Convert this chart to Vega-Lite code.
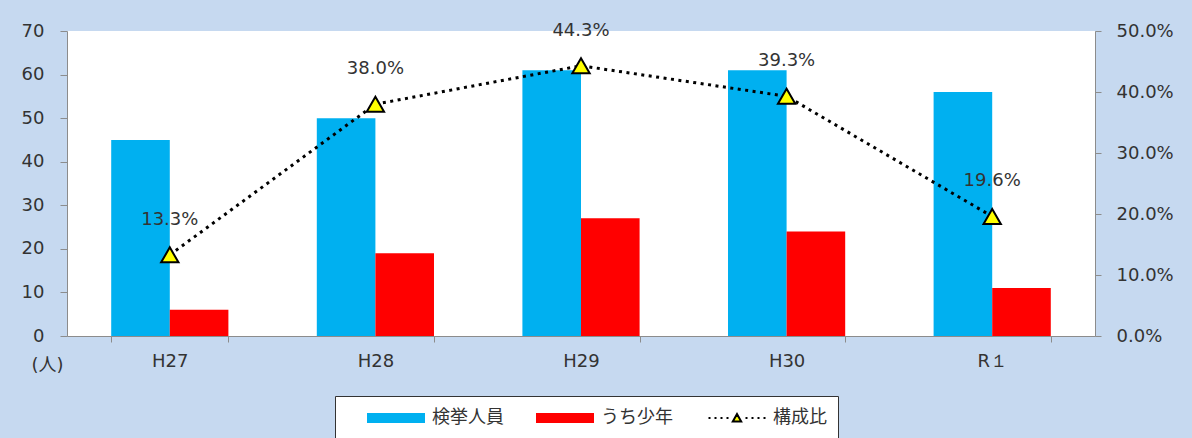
{
  "$schema": "https://vega.github.io/schema/vega-lite/v6.json",
  "width": 1028,
  "height": 305,
  "autosize": {"type": "none"},
  "padding": {"left": 67, "top": 31, "right": 97, "bottom": 102},
  "background": "#c6d9f0",
  "config": {
    "view": {"fill": "white", "stroke": null},
    "font": "DejaVu Sans",
    "axis": {
      "labelFont": "DejaVu Sans",
      "labelFontSize": 18,
      "labelColor": "#333333",
      "domainColor": "#8c8c8c",
      "tickColor": "#8c8c8c",
      "grid": false,
      "titleFont": "DejaVu Sans, Noto Sans CJK JP",
      "titleFontWeight": "normal",
      "titleColor": "#333333",
      "titleFontSize": 18
    }
  },
  "datasets": {
    "counts": [
      {"year": "H27", "series": "検挙人員", "value": 45},
      {"year": "H27", "series": "うち少年", "value": 6},
      {"year": "H28", "series": "検挙人員", "value": 50},
      {"year": "H28", "series": "うち少年", "value": 19},
      {"year": "H29", "series": "検挙人員", "value": 61},
      {"year": "H29", "series": "うち少年", "value": 27},
      {"year": "H30", "series": "検挙人員", "value": 61},
      {"year": "H30", "series": "うち少年", "value": 24},
      {"year": "R１", "series": "検挙人員", "value": 56},
      {"year": "R１", "series": "うち少年", "value": 11}
    ],
    "ratio": [
      {"year": "H27", "ratio": 0.133},
      {"year": "H28", "ratio": 0.38},
      {"year": "H29", "ratio": 0.443},
      {"year": "H30", "ratio": 0.393},
      {"year": "R１", "ratio": 0.196}
    ]
  },
  "encoding": {
    "x": {
      "field": "year",
      "type": "nominal",
      "sort": ["H27", "H28", "H29", "H30", "R１"],
      "scale": {"paddingInner": 0.43, "paddingOuter": 0.215},
      "axis": {
        "title": null,
        "labelAngle": 0,
        "tickBand": "extent",
        "tickSize": 6,
        "labelPadding": 10
      }
    }
  },
  "layer": [
    {
      "data": {"name": "counts"},
      "mark": {"type": "bar"},
      "encoding": {
        "xOffset": {
          "field": "series",
          "type": "nominal",
          "sort": ["検挙人員", "うち少年"],
          "scale": {"paddingInner": 0, "paddingOuter": 0}
        },
        "y": {
          "field": "value",
          "type": "quantitative",
          "scale": {"domain": [0, 70]},
          "axis": {
            "orient": "left",
            "values": [0, 10, 20, 30, 40, 50, 60, 70],
            "title": "(人)",
            "titleAngle": 0,
            "titleX": -20,
            "titleY": 334,
            "titleAlign": "center",
            "titleBaseline": "middle",
            "tickSize": 7,
            "labelPadding": 16
          }
        },
        "color": {
          "field": "series",
          "type": "nominal",
          "scale": {
            "domain": ["検挙人員", "うち少年", "構成比"],
            "range": ["#00b0f0", "#ff0000", "#ffff00"]
          },
          "legend": {
            "orient": "none",
            "legendX": 268,
            "legendY": 365,
            "direction": "horizontal",
            "title": "　",
            "titleOrient": "left",
            "titleFontSize": 18,
            "titlePadding": 20,
            "titleFont": "Noto Sans CJK JP",
            "fillColor": "white",
            "strokeColor": "#333333",
            "padding": 11,
            "labelFont": "DejaVu Sans, Noto Sans CJK JP",
            "labelFontSize": 18,
            "labelColor": "#333333",
            "labelOffset": 25,
            "labelLimit": 200,
            "columnPadding": 31,
            "symbolSize": 400,
            "symbolOffset": 19,
            "symbolStrokeWidth": 2,
            "symbolOpacity": 1,
            "encode": {
              "symbols": {
                "update": {
                  "shape": {"signal": "datum.value === '構成比' ? 'M-2.85,0H-2.65M-2.25,0H-2.05M-1.65,0H-1.45M-1.05,0H-0.85M0.85,0H1.05M1.45,0H1.65M2.05,0H2.25M2.65,0H2.85M-0.42,0.36L0,-0.4L0.42,0.36Z' : 'M-2.9,-0.5H2.9V0.5H-2.9Z'"},
                  "stroke": {"signal": "datum.value === '構成比' ? 'black' : null"},
                  "strokeWidth": {"value": 2}
                }
              }
            }
          }
        }
      }
    },
    {
      "data": {"name": "ratio"},
      "encoding": {
        "y": {
          "field": "ratio",
          "type": "quantitative",
          "scale": {"domain": [0, 0.5]},
          "axis": {
            "orient": "right",
            "values": [0, 0.1, 0.2, 0.3, 0.4, 0.5],
            "format": ".1%",
            "title": null,
            "tickSize": 6,
            "labelPadding": 15
          }
        }
      },
      "layer": [
        {
          "mark": {"type": "line", "color": "black", "strokeDash": [3, 4.5], "strokeWidth": 3},
          "encoding": {}
        },
        {
          "mark": {"type": "point", "shape": "triangle-up", "filled": true, "size": 300, "stroke": "black", "strokeWidth": 2, "opacity": 1},
          "encoding": {"color": {"datum": "構成比", "type": "nominal"}}
        },
        {
          "mark": {"type": "text", "dy": -35, "fontSize": 18, "color": "#333333", "font": "DejaVu Sans"},
          "encoding": {"text": {"field": "ratio", "type": "quantitative", "format": ".1%"}}
        }
      ]
    }
  ],
  "resolve": {"scale": {"y": "independent"}}
}
